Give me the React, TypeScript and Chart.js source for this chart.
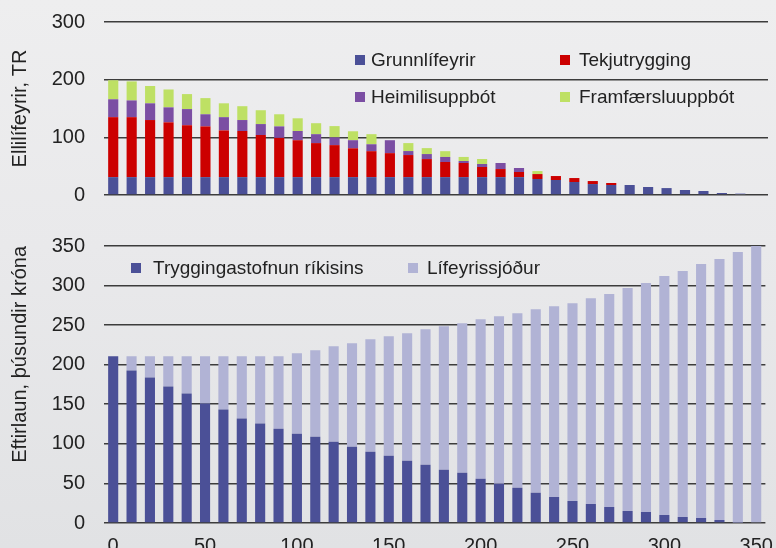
import React, { useEffect, useRef } from 'react';
import { Chart, registerables } from 'chart.js';

Chart.register(...registerables);

const FONT = '"Liberation Sans", Arial, sans-serif';
Chart.defaults.font.family = FONT;

// Categories (x axis)
const xLabels = [
  '0', '10', '20', '30', '40', '50', '60', '70', '80', '90',
  '100', '110', '120', '130', '140', '150', '160', '170', '180', '190',
  '200', '210', '220', '230', '240', '250', '260', '270', '280', '290',
  '300', '310', '320', '330', '340', '350',
];

// Top panel: Ellilífeyrir, TR
const grunnlifeyrir = [
  31, 31, 31, 31, 31, 31, 31, 31, 31, 31,
  31, 31, 31, 31, 31, 31, 31, 31, 31, 31,
  31, 31, 31, 27.7, 26, 22.5, 19, 17.3, 17.3, 13.9,
  12, 8.7, 6.9, 3.5, 3.5, 0,
];
const tekjutrygging = [
  104, 104, 99, 95, 90, 88, 81, 80, 73, 68,
  64, 59, 55.5, 50, 45, 41.6, 38.3, 31.3, 26.2, 24.5,
  17.6, 14, 8.9, 8.6, 6.9, 6.9, 5.2, 3.5, 0, 0,
  0, 0, 0, 0, 0, 0,
];
const heimilisuppbot = [
  31, 29, 29, 26, 28, 21, 23, 19, 19, 20,
  16, 15.5, 13.5, 14, 12, 22.4, 6.9, 8.7, 8.8, 3.5,
  5.2, 10.5, 6.9, 0, 0, 0, 0, 0, 0, 0,
  0, 0, 0, 0, 0, 0,
];
const framfaersluuppbot = [
  33, 33, 30, 31, 26, 28, 24, 24, 24, 21,
  22, 19, 19.5, 15.5, 17.5, 0, 13.8, 10.3, 10, 7,
  8.6, 0, 0, 5.2, 0, 0, 0, 0, 0, 0,
  0, 0, 0, 0, 0, 0,
];

// Bottom panel: Eftirlaun, þúsundir króna
const tryggingastofnun = [
  210.6, 192.8, 183.9, 172.5, 163.6, 151, 143.3, 131.9, 125.6, 119.2,
  112.9, 109.1, 102.7, 96.4, 90, 85, 78.6, 73.6, 67.2, 63.4,
  55.8, 49.5, 44.4, 38.1, 33, 27.9, 24.1, 20.3, 15.2, 14,
  10.1, 7.6, 6.3, 3.8, 0.5, 0,
];
const lifeyrissjodur = [
  0, 17.8, 26.7, 38.1, 47, 59.6, 67.3, 78.7, 85, 91.4,
  101.5, 109.1, 120.6, 130.7, 142.1, 150.9, 161.1, 171.2, 181.4, 189,
  201.7, 211.8, 220.7, 232.1, 241, 249.9, 260, 268.9, 281.6, 289.2,
  301.9, 310.8, 321, 329.8, 342, 350.1,
];

const topTicks = [0, 100, 200, 300];
const bottomTicks = [0, 50, 100, 150, 200, 250, 300, 350];

const BLUE = '#4B5097';
const RED = '#CC0000';
const PURPLE = '#7B4EA3';
const GREEN = '#BEE064';
const LIGHT = '#B1B3D5';
const TEXT = '#222222';
const GRID = '#3c3c3c';
// the one Grunnlífeyrir bar that is shown in the light colour in the original
const grunnLightIndex = 34;

type LegendItem = { ds: number; x: number; y: number; tx: number };

function legendPlugin(items: LegendItem[]) {
  return {
    id: 'customLegend',
    afterDraw(chart: any) {
      const ctx = chart.ctx;
      ctx.save();
      ctx.font = `19px ${FONT}`;
      ctx.textBaseline = 'middle';
      ctx.textAlign = 'left';
      items.forEach((it) => {
        const ds = chart.data.datasets[it.ds];
        ctx.fillStyle = ds.legendColor;
        ctx.fillRect(it.x, it.y - 5, 10, 10);
        ctx.fillStyle = TEXT;
        ctx.fillText(ds.label, it.tx, it.y + 1);
      });
      ctx.restore();
    },
  };
}

function yScale(min: number, max: number, step: number, ticks: number[], title: string, align: string) {
  return {
    stacked: true,
    min,
    max,
    afterBuildTicks: (scale: any) => {
      scale.ticks = ticks.map((v) => ({ value: v }));
    },
    afterFit: (scale: any) => {
      scale.width = 104;
      scale.paddingTop = 0;
      scale.paddingBottom = 0;
    },
    ticks: {
      stepSize: step,
      color: TEXT,
      font: { size: 20, family: FONT },
      padding: 19,
    },
    grid: {
      color: GRID,
      lineWidth: 1.6,
      drawTicks: false,
    },
    border: { display: false },
    title: {
      display: true,
      text: title,
      color: TEXT,
      align,
      font: { size: 20, family: FONT },
      padding: { top: 8, bottom: 0 },
    },
  };
}

const BOTTOM_TOP = 215;
const BOTTOM_H = 346;

export default function App() {
  const topRef = useRef<HTMLCanvasElement>(null);
  const botRef = useRef<HTMLCanvasElement>(null);

  useEffect(() => {
    const common = { categoryPercentage: 1, barPercentage: 0.55 };
    const top = new Chart(topRef.current as HTMLCanvasElement, {
      type: 'bar',
      data: {
        labels: xLabels,
        datasets: [
          {
            label: 'Grunnlífeyrir', data: grunnlifeyrir,
            backgroundColor: (c: any) => (c.dataIndex === grunnLightIndex ? LIGHT : BLUE),
            legendColor: BLUE, ...common,
          } as any,
          { label: 'Tekjutrygging', data: tekjutrygging, backgroundColor: RED, legendColor: RED, ...common } as any,
          { label: 'Heimilisuppbót', data: heimilisuppbot, backgroundColor: PURPLE, legendColor: PURPLE, ...common } as any,
          { label: 'Framfærsluuppbót', data: framfaersluuppbot, backgroundColor: GREEN, legendColor: GREEN, ...common } as any,
        ],
      },
      options: {
        responsive: false,
        animation: false,
        layout: { padding: { top: 22, bottom: 20, left: 0, right: 8 } },
        plugins: { legend: { display: false }, tooltip: { enabled: false } },
        scales: {
          x: { stacked: true, display: false, offset: true },
          y: yScale(0, 300, 100, topTicks, 'Ellilífeyrir, TR', 'center') as any,
        },
      },
      plugins: [
        legendPlugin([
          { ds: 0, x: 355, y: 60, tx: 371 },
          { ds: 1, x: 560, y: 60, tx: 579 },
          { ds: 2, x: 355, y: 97, tx: 371 },
          { ds: 3, x: 560, y: 97, tx: 579 },
        ]),
      ],
    });

    const bot = new Chart(botRef.current as HTMLCanvasElement, {
      type: 'bar',
      data: {
        labels: xLabels,
        datasets: [
          { label: 'Tryggingastofnun ríkisins', data: tryggingastofnun, backgroundColor: BLUE, legendColor: BLUE, ...common } as any,
          { label: 'Lífeyrissjóður', data: lifeyrissjodur, backgroundColor: LIGHT, legendColor: LIGHT, ...common } as any,
        ],
      },
      options: {
        responsive: false,
        animation: false,
        layout: { padding: { top: 31, bottom: 0, left: 0, right: 8 } },
        plugins: { legend: { display: false }, tooltip: { enabled: false } },
        scales: {
          x: {
            stacked: true,
            offset: true,
            grid: { display: false },
            border: { display: false },
            ticks: {
              autoSkip: false,
              maxRotation: 0,
              color: TEXT,
              font: { size: 20, family: FONT },
              padding: 3,
              callback: (_v: any, i: number) => (i % 5 === 0 ? xLabels[i] : ''),
            },
          },
          y: yScale(0, 350, 50, bottomTicks, 'Eftirlaun, þúsundir króna', 'end') as any,
        },
      },
      plugins: [
        legendPlugin([
          { ds: 0, x: 131, y: 268 - BOTTOM_TOP, tx: 153 },
          { ds: 1, x: 408, y: 268 - BOTTOM_TOP, tx: 427 },
        ]),
      ],
    });

    return () => {
      top.destroy();
      bot.destroy();
    };
  }, []);

  return (
    <div
      style={{
        position: 'fixed',
        left: 0,
        top: 0,
        width: 776,
        height: 548,
        overflow: 'hidden',
        background: 'linear-gradient(to bottom, #EEEEEF 0%, #E9E9EB 45%, #E1E2E4 100%)',
      }}
    >
      <canvas ref={topRef} width={776} height={215} style={{ position: 'absolute', left: 0, top: 0, width: 776, height: 215 }} />
      <canvas ref={botRef} width={776} height={BOTTOM_H} style={{ position: 'absolute', left: 0, top: BOTTOM_TOP, width: 776, height: BOTTOM_H }} />
    </div>
  );
}
